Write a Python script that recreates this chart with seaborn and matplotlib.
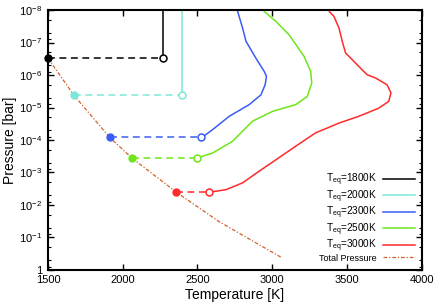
import numpy as np
import pandas as pd
import matplotlib
matplotlib.use("Agg")
import matplotlib.pyplot as plt
import matplotlib.ticker as ticker
from matplotlib.lines import Line2D
import seaborn as sns

# Curvas T-P para cada temperatura de equilibrio.
blue_T = [2531, 2602, 2713, 2847, 2925, 2953, 2962, 2947, 2891, 2825, 2802, 2769, 2762]
blue_logp = [-4.08, -4.32, -4.73, -5.09, -5.39, -5.70, -5.96, -6.11, -6.52, -7.04, -7.45, -7.96, -8.1]

green_T = [2500, 2513, 2602, 2735, 2869, 3002, 3158, 3235, 3265, 3258, 3213, 3113, 3025, 2947, 2930]
green_logp = [-3.45, -3.47, -3.60, -3.96, -4.58, -4.88, -5.09, -5.34, -5.75, -6.11, -6.58, -7.24, -7.65, -7.96, -8.1]

red_T = [2575, 2691, 2802, 2913, 3025, 3158, 3291, 3447, 3580, 3713, 3780, 3795, 3769,
         3691, 3635, 3602, 3547, 3491, 3469, 3447, 3413, 3385, 3370]
red_logp = [-2.39, -2.47, -2.68, -3.04, -3.39, -3.81, -4.22, -4.52, -4.73, -4.98, -5.19, -5.45, -5.70,
            -5.91, -6.01, -6.16, -6.42, -6.68, -7.04, -7.45, -7.81, -7.94, -8.1]

black_T = [2267, 2267]
black_logp = [-6.52, -8.1]
cyan_T = [2400, 2400]
cyan_logp = [-5.38, -8.1]

# Puntos de condensacion (rellenos) y fin de la meseta (vacios).
cond_T = [1500, 1673, 1913, 2060, 2360]
open_T = [2267, 2400, 2525, 2495, 2575]
cond_logp = [-6.52, -5.38, -4.08, -3.45, -2.39]

# Presion total.
total_T = [1500, 1673, 1913, 2060, 2360, 2647, 3067]
total_logp = [-6.52, -5.38, -4.08, -3.45, -2.39, -1.48, -0.37]

labels = ['1800K', '2000K', '2300K', '2500K', '3000K']
colors = ['#000000', '#7ee8d8', '#3a5cf5', '#6ee619', '#ff2a2a']
total_color = '#d2602a'

plt.rcParams['font.family'] = ['Liberation Sans', 'DejaVu Sans']
plt.rcParams['mathtext.fontset'] = 'custom'
plt.rcParams['mathtext.rm'] = 'Liberation Sans'
plt.rcParams['mathtext.it'] = 'Liberation Sans:italic'

Figure, Grafico = plt.subplots(figsize=(4.36, 3.05), dpi=100)
Figure.subplots_adjust(left=0.110, right=0.967, bottom=0.115, top=0.967)

curvas = [(black_T, black_logp), (cyan_T, cyan_logp), (blue_T, blue_logp),
          (green_T, green_logp), (red_T, red_logp)]

for (T, lp), c in zip(curvas, colors):
    df = pd.DataFrame({'T': T, 'p': 10.0 ** np.array(lp)})
    sns.lineplot(data=df, x='T', y='p', sort=False, estimator=None, color=c, lw=1.1, ax=Grafico)

# Mesetas punteadas.
for i, c in enumerate(colors):
    df = pd.DataFrame({'T': [cond_T[i], open_T[i]], 'p': [10.0 ** cond_logp[i]] * 2})
    sns.lineplot(data=df, x='T', y='p', sort=False, estimator=None, color=c, lw=1.1,
                 ax=Grafico).lines[-1].set_dashes((4.5, 3))

# Presion total.
df_total = pd.DataFrame({'T': total_T, 'p': 10.0 ** np.array(total_logp)})
sns.lineplot(data=df_total, x='T', y='p', sort=False, estimator=None, color=total_color,
             lw=0.9, ax=Grafico).lines[-1].set_dashes((3, 1.5, 1, 1.5))

# Marcadores.
for i, c in enumerate(colors):
    p = 10.0 ** cond_logp[i]
    Grafico.plot(cond_T[i], p, 'o', color=c, ms=5, zorder=5, clip_on=False)
    Grafico.plot(open_T[i], p, 'o', mfc='white', mec=c, mew=1.1, ms=5, zorder=5)

Grafico.set_yscale('log')
Grafico.set_xlim(1500, 4000)
Grafico.set_ylim(1, 1e-8)
Grafico.set_xticks([1500, 2000, 2500, 3000, 3500, 4000])
Grafico.set_yticks([1, 1e-1, 1e-2, 1e-3, 1e-4, 1e-5, 1e-6, 1e-7, 1e-8])
Grafico.set_yticklabels(['1', r'10$^{-1}$', r'10$^{-2}$', r'10$^{-3}$', r'10$^{-4}$',
                         r'10$^{-5}$', r'10$^{-6}$', r'10$^{-7}$', r'10$^{-8}$'])
minor = [s * 10.0 ** e for e in range(-8, 0) for s in (2, 5, 8)]
Grafico.yaxis.set_minor_locator(ticker.FixedLocator(minor))
Grafico.yaxis.set_minor_formatter(ticker.NullFormatter())
Grafico.tick_params(which='both', direction='in', top=True, right=True, labelsize=8, pad=4)
Grafico.tick_params(which='major', length=4, width=1)
Grafico.tick_params(which='minor', length=2, width=0.8)
Grafico.tick_params(axis='x', which='minor', bottom=False, top=False)
for s in Grafico.spines.values():
    s.set_linewidth(1.5)

Grafico.set_xlabel('Temperature [K]', fontsize=10, labelpad=2)
Grafico.set_ylabel('Pressure [bar]', fontsize=10, labelpad=2)

handles = [Line2D([], [], color=c, lw=1.1) for c in colors]
handles.append(Line2D([], [], color=total_color, lw=0.9, dashes=(3, 1.5, 1, 1.5)))
texts = [r'T$_{\rm eq}$=' + l for l in labels] + ['Total Pressure']
leg = Grafico.legend(handles, texts, loc='lower right', frameon=False, markerfirst=False,
                     fontsize=7.2, handlelength=3.2, labelspacing=0.0, borderaxespad=0.3,
                     handletextpad=0.6)
leg.get_texts()[-1].set_fontsize(6.5)

plt.savefig('out.png', dpi=100)
